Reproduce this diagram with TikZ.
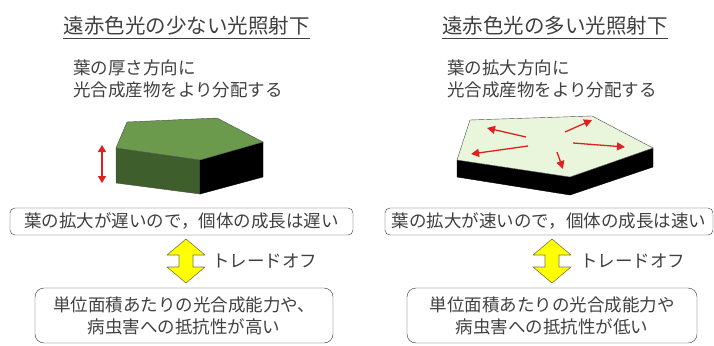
\documentclass[tikz,border=0pt]{standalone}
\usepackage{fontspec}
\setmainfont{Noto Sans CJK JP}
\usetikzlibrary{arrows.meta}
\definecolor{txtgray}{HTML}{404040}
\definecolor{boxgray}{HTML}{303030}
\definecolor{leaftop}{HTML}{6B9A4D}
\definecolor{leaffront}{HTML}{3E5E2B}
\definecolor{leafpale}{HTML}{EAF6DC}
\definecolor{arrowred}{HTML}{E02020}
\definecolor{tradeyellow}{HTML}{FFFF00}
\tikzset{
  title/.style={inner sep=0pt, font=\fontsize{20.5}{24}\selectfont},
  note/.style={inner sep=0pt, align=left, anchor=north west},
  resultbox/.style={draw=boxgray, rounded corners=5pt, inner sep=0pt, minimum height=27pt},
  tradebox/.style={draw=boxgray, rounded corners=9pt, inner sep=0pt, align=center, minimum height=55pt},
  flow/.style={arrowred, line width=1.3pt, -{Triangle[length=8pt,width=8pt]}},
  tradeoff/.style={draw=black!60!yellow, fill=tradeyellow, line width=0.6pt, line join=round},
}
\begin{document}
\begin{tikzpicture}[x=1pt,y=-1pt, every node/.style={text=txtgray, font=\fontsize{17.5}{22}\selectfont}]
	\useasboundingbox (0,0) rectangle (714,345);
	%
	\node[title] (titleL) at (186.5,26) {遠赤色光の少ない光照射下};
	\node[title] (titleR) at (555,26) {遠赤色光の多い光照射下};
	\draw[txtgray] ([yshift=-2pt]titleL.south west) -- ([yshift=-2pt]titleL.south east);
	\draw[txtgray] ([yshift=-2pt]titleR.south west) -- ([yshift=-2pt]titleR.south east);
	%
	\node[note] (noteL) at (73,60) {葉の厚さ方向に\\光合成産物をより分配する};
	\node[note] (noteR) at (447,60) {葉の拡大方向に\\光合成産物をより分配する};
	%
	% thick leaf
	\filldraw[fill=leaffront, draw=black!70] (116,148) -- (200,160) -- (200,194) -- (116,183) -- cycle;
	\filldraw[fill=black, draw=black] (200,160) -- (263,142) -- (263,177) -- (200,194) -- cycle;
	\filldraw[fill=leaftop, draw=black!70] (116,148) -- (127,122) -- (217,118) -- (263,142) -- (200,160) -- cycle;
	\draw[arrowred, line width=1.1pt, {Triangle[length=7pt,width=8pt]}-{Triangle[length=7pt,width=8pt]}] (102,145) -- (102,183);
	%
	% thin, wide leaf
	\filldraw[fill=black, draw=black] (457,160) -- (570,177) -- (653,148) -- (653,167) -- (570,195) -- (457,177) -- cycle;
	\filldraw[fill=leafpale, draw=black!70] (457,160) -- (470,120) -- (592,116) -- (653,148) -- (570,177) -- cycle;
	\draw[flow] (526,137) -- (487,128);
	\draw[flow] (528,146) -- (471,154);
	\draw[flow] (565,132) -- (592,120);
	\draw[flow] (573,143) -- (625,147);
	\draw[flow] (557,152) -- (563,169);
	%
	\node[resultbox, minimum width=343pt] (growL) at (181.5,221.5) {葉の拡大が遅いので，個体の成長は遅い};
	\node[resultbox, minimum width=328pt] (growR) at (549,221.5) {葉の拡大が速いので，個体の成長は速い};
	%
	\draw[tradeoff, shift={(186,239)}] (0,0) -- (19,16) -- (7,16) -- (7,28) -- (19,28) -- (0,44)
		-- (-19,28) -- (-7,28) -- (-7,16) -- (-19,16) -- cycle;
	\draw[tradeoff, shift={(552,239)}] (0,0) -- (19,16) -- (7,16) -- (7,28) -- (19,28) -- (0,44)
		-- (-19,28) -- (-7,28) -- (-7,16) -- (-19,16) -- cycle;
	\node[anchor=west, inner sep=0pt] (tradeL) at (212,261) {トレードオフ};
	\node[anchor=west, inner sep=0pt] (tradeR) at (580,261) {トレードオフ};
	%
	\node[tradebox, minimum width=298pt] (capL) at (184,315.5) {単位面積あたりの光合成能力や、\\病虫害への抵抗性が高い};
	\node[tradebox, minimum width=290pt] (capR) at (552,315.5) {単位面積あたりの光合成能力や\\病虫害への抵抗性が低い};
	%
\end{tikzpicture}
\end{document}
